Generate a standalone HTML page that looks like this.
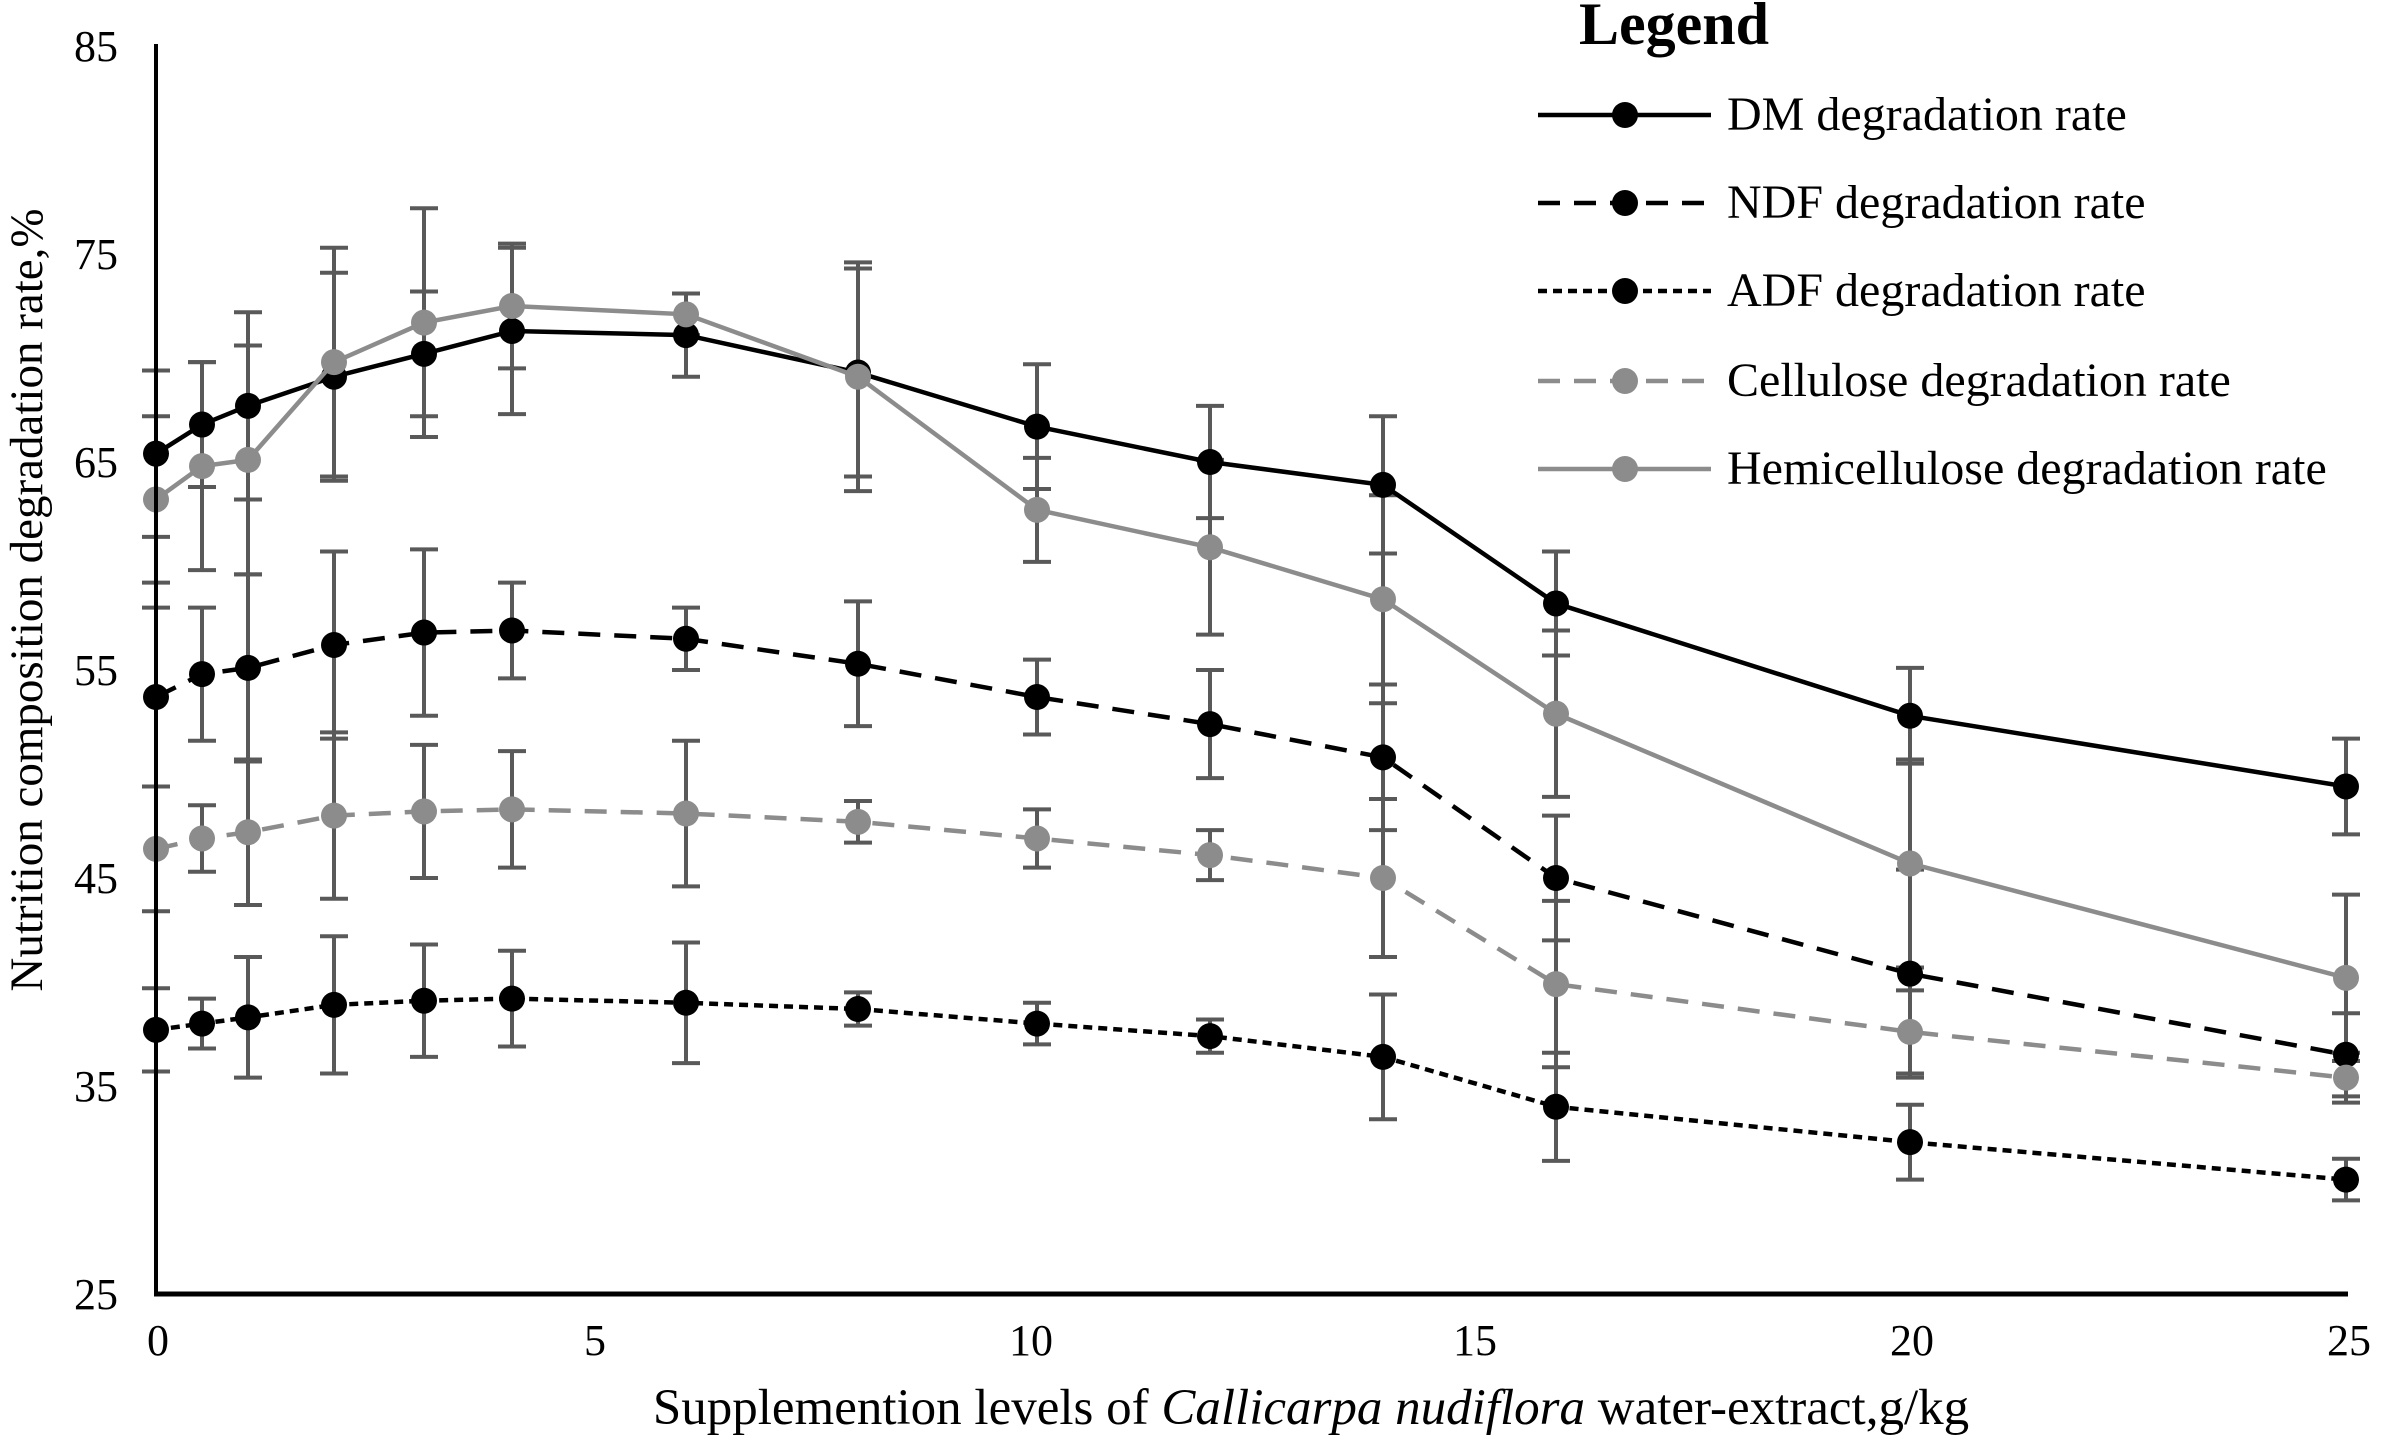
<!DOCTYPE html>
<html><head><meta charset="utf-8"><style>
html,body{margin:0;padding:0;background:#fff;}
svg{display:block;font-family:"Liberation Serif",serif;}
</style></head><body>
<svg id="s" width="2381" height="1437" viewBox="0 0 2381 1437" xmlns="http://www.w3.org/2000/svg">
<rect width="2381" height="1437" fill="#fff"/>
<g id="g"></g>
<line x1="156" y1="44" x2="156" y2="1294" stroke="#000" stroke-width="4"/>
<line x1="154" y1="1294" x2="2348" y2="1294" stroke="#000" stroke-width="5"/>
<g font-size="44" text-anchor="end">
<text x="118" y="61">85</text><text x="118" y="269">75</text><text x="118" y="477">65</text>
<text x="118" y="685">55</text><text x="118" y="893">45</text><text x="118" y="1101">35</text><text x="118" y="1309">25</text>
</g>
<g font-size="44" text-anchor="middle">
<text x="158" y="1355">0</text><text x="595" y="1355">5</text><text x="1031" y="1355">10</text>
<text x="1475" y="1355">15</text><text x="1912" y="1355">20</text><text x="2349" y="1355">25</text>
</g>
<text x="1311" y="1424" font-size="51" text-anchor="middle">Supplemention levels of <tspan font-style="italic">Callicarpa nudiflora</tspan> water-extract,g/kg</text>
<text transform="translate(42,600) rotate(-90)" font-size="47" text-anchor="middle">Nutrition composition degradation rate,%</text>
<text x="1579" y="44" font-size="60" font-weight="bold">Legend</text>
<g id="leg" font-size="48"></g>
</svg>
<script>
var XP=[156,202,248,334,424,512,686,858,1037,1210,1383,1556,1910,2346];
var S=[
{n:"DM degradation rate",c:"#000",d:"",v:[65.4,66.8,67.7,69.1,70.2,71.3,71.1,69.3,66.7,65.0,63.9,58.2,52.8,49.4],e:[4,3,4.5,5,3,4,2,5,3,2.7,3.3,2.5,2.3,2.3]},
{n:"NDF degradation rate",c:"#000",d:"22 14",v:[53.7,54.8,55.1,56.2,56.8,56.9,56.5,55.3,53.7,52.4,50.8,45.0,40.4,36.5],e:[4.3,3.2,4.5,4.5,4,2.3,1.5,3,1.8,2.6,3.5,3,5,2]},
{n:"ADF degradation rate",c:"#000",d:"9 6",v:[37.7,38.0,38.3,38.9,39.1,39.2,39.0,38.7,38.0,37.4,36.4,34.0,32.3,30.5],e:[2,1.2,2.9,3.3,2.7,2.3,2.9,0.8,1,0.8,3,2.6,1.8,1]},
{n:"Cellulose degradation rate",c:"#8c8c8c",d:"22 14",v:[46.4,46.9,47.2,48.0,48.2,48.3,48.1,47.7,46.9,46.1,45.0,39.9,37.6,35.4],e:[3,1.6,3.5,4,3.2,2.8,3.5,1,1.4,1.2,3.8,4,2,1.2]},
{n:"Hemicellulose degradation rate",c:"#8c8c8c",d:"",v:[63.2,64.8,65.1,69.8,71.7,72.5,72.1,69.1,62.7,60.9,58.4,52.9,45.7,40.2],e:[4,5,5.5,5.5,5.5,3,1,5.5,2.5,4.2,5,4,5,4]}
];
function py(v){return 1294-(v-25)*20.8;}
var h="",eb="";
S.forEach(function(s){
 var p=XP.map(function(x,i){return x+","+py(s.v[i]).toFixed(1);}).join(" ");
 XP.forEach(function(x,i){var a=py(s.v[i]+s.e[i]),b=py(s.v[i]-s.e[i]);
  eb+='<line x1="'+x+'" y1="'+a+'" x2="'+x+'" y2="'+b+'" stroke="#595959" stroke-width="4"/>';
  eb+='<line x1="'+(x-14)+'" y1="'+a+'" x2="'+(x+14)+'" y2="'+a+'" stroke="#595959" stroke-width="4"/>';
  eb+='<line x1="'+(x-14)+'" y1="'+b+'" x2="'+(x+14)+'" y2="'+b+'" stroke="#595959" stroke-width="4"/>';});
 h+='<polyline points="'+p+'" fill="none" stroke="'+s.c+'" stroke-width="4.5"'+(s.d?' stroke-dasharray="'+s.d+'"':'')+'/>';
 XP.forEach(function(x,i){h+='<circle cx="'+x+'" cy="'+py(s.v[i])+'" r="13" fill="'+s.c+'"/>';});
});
document.getElementById("g").innerHTML=eb+h;
var L="",ys=[115,203,291,381,469];
S.forEach(function(s,i){var y=ys[i];
 L+='<line x1="1538" y1="'+y+'" x2="1711" y2="'+y+'" stroke="'+s.c+'" stroke-width="4.5"'+(s.d?' stroke-dasharray="'+s.d+'"':'')+'/>';
 L+='<circle cx="1625" cy="'+y+'" r="13" fill="'+s.c+'"/>';
 L+='<text x="1727" y="'+(y+15)+'">'+s.n+'</text>';});
document.getElementById("leg").innerHTML=L;
</script>
</body></html>
